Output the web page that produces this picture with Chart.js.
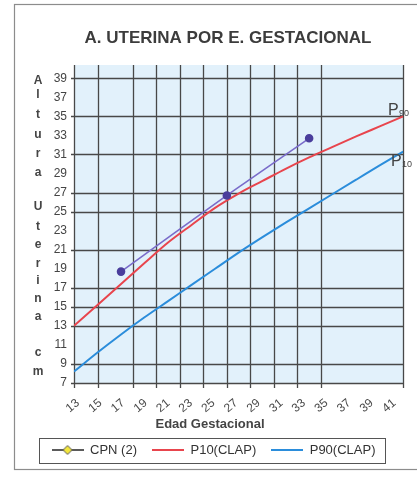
<!DOCTYPE html>
<html><head><meta charset="utf-8">
<script src="https://cdn.jsdelivr.net/npm/chart.js@4"></script>
<style>html,body{margin:0;padding:0;background:#fff;overflow:hidden}canvas{display:block}</style>
</head><body><canvas id="c" width="417" height="478"></canvas>
<script>
// ---- data ----
const chartTitle = 'A. UTERINA POR E. GESTACIONAL';
const xAxisTitle = 'Edad Gestacional';
const yAxisLetters = ['A','l','t','u','r','a','U','t','e','r','i','n','a','c','m'];
const xTickLabels = [13,15,17,19,21,23,25,27,29,31,33,35,37,39,41];
const yTickLabels = [7,9,11,13,15,17,19,21,23,25,27,29,31,33,35,37,39];
const weeks   = [13,15,17,19,21,23,25,27,29,31,33,35,37,39,41];
const p10Clap = [13.0,15.2,17.4,19.6,21.75,23.6,25.4,26.9,28.2,29.5,30.7,31.8,32.9,33.95,35.0];
const p90Clap = [8.2,10.2,12.1,13.9,15.6,17.3,19.0,20.7,22.3,23.85,25.35,26.85,28.35,29.85,31.3];
const cpnWeeks = [17,26,33];
const cpnHeights = [18.7,26.7,32.7];
const vGridWeeks = [13,15,18,20,22,24,26,28,30,32,34,41];
const hGridValues = [7,9,13,15,17,21,25,27,31,35,39];
const seriesNames = ['CPN (2)','P10(CLAP)','P90(CLAP)'];
const curveTags = ['90','10'];

const FONT = '"Liberation Sans", Arial, Helvetica, sans-serif';
Chart.defaults.font.family = FONT;

function legendIcon(kind){
  const c = document.createElement('canvas');
  c.width = 32; c.height = 12;
  const g = c.getContext('2d');
  g.lineWidth = kind === 'cpn' ? 1.6 : 2;
  g.strokeStyle = kind === 'cpn' ? '#333' : (kind === 'red' ? '#e8454d' : '#2b8ddb');
  g.beginPath(); g.moveTo(0,6); g.lineTo(32,6); g.stroke();
  if (kind === 'cpn'){
    g.beginPath(); g.moveTo(16,1.5); g.lineTo(20.5,6); g.lineTo(16,10.5); g.lineTo(11.5,6); g.closePath();
    g.fillStyle = '#f3e63c'; g.fill(); g.lineWidth = 1; g.strokeStyle = '#555'; g.stroke();
  }
  return c;
}
const icons = [legendIcon('cpn'), legendIcon('red'), legendIcon('blue')];

const decor = {
  id: 'decor',
  beforeDraw(chart){
    const {ctx, chartArea:a} = chart;
    ctx.save();
    ctx.fillStyle = '#fff'; ctx.fillRect(0,0,chart.width,chart.height);
    ctx.strokeStyle = '#8c8c8c'; ctx.lineWidth = 1.2;
    ctx.strokeRect(14.5,4.5,420,465);
    ctx.fillStyle = '#e2f1fb';
    ctx.fillRect(a.left, a.top, a.right-a.left, a.bottom-a.top);
    ctx.restore();
  },
  beforeDatasetsDraw(chart){
    const {ctx, chartArea:a, scales:{x,y}} = chart;
    ctx.save();
    ctx.strokeStyle = '#484848'; ctx.lineWidth = 1.3;
    ctx.beginPath();
    vGridWeeks.forEach(w => { const px = Math.round(x.getPixelForValue(w)) + 0.5; ctx.moveTo(px, a.top); ctx.lineTo(px, a.bottom + 5); });
    hGridValues.forEach(v => { const py = Math.round(y.getPixelForValue(v)) + 0.5; ctx.moveTo(a.left - 3, py); ctx.lineTo(a.right, py); });
    ctx.stroke();
    ctx.restore();
  },
  afterDraw(chart){
    const {ctx, scales:{x,y}} = chart;
    ctx.save();
    // title
    ctx.fillStyle = '#3c3c3c'; ctx.textAlign = 'center'; ctx.textBaseline = 'middle';
    ctx.font = 'bold 17px ' + FONT;
    ctx.fillText(chartTitle, 228, 38.5);
    // x title
    ctx.font = 'bold 13px ' + FONT; ctx.fillStyle = '#444';
    ctx.fillText(xAxisTitle, 210, 424);
    // y title letters
    const ly = [81,95,115,135,154,173,207,227,245,264,281,299,317,353,372];
    ctx.font = 'bold 12px ' + FONT;
    yAxisLetters.forEach((ch,i) => ctx.fillText(ch, 38, ly[i]));
    // curve tags
    ctx.textAlign = 'left'; ctx.textBaseline = 'alphabetic'; ctx.fillStyle = '#444';
    const ends = [[p10Clap, 388, -1], [p90Clap, 391, 14]];
    ends.forEach((e,i) => {
      const py = y.getPixelForValue(e[0][e[0].length-1]) + e[2];
      ctx.font = '16px ' + FONT; ctx.fillText('P', e[1], py);
      ctx.font = '9px ' + FONT; ctx.fillText(curveTags[i], e[1] + 11, py + 1);
    });
    // legend frame
    const hb = chart.legend.legendHitBoxes;
    if (hb && hb.length){
      const l = hb[0].left - 13, r = hb[hb.length-1].left + hb[hb.length-1].width + 9;
      const cy = hb[0].top + hb[0].height/2;
      ctx.strokeStyle = '#555'; ctx.lineWidth = 1;
      ctx.strokeRect(Math.round(l)+0.5, Math.round(cy-12.5)+0.5, Math.round(r-l), 25);
    }
    ctx.restore();
  }
};

new Chart(document.getElementById('c'), {
  type: 'line',
  data: {
    datasets: [
      { label: seriesNames[0], data: cpnWeeks.map((w,i)=>({x:w, y:cpnHeights[i]})),
        borderColor: '#7a6cca', borderWidth: 1.6, tension: 0.25,
        pointRadius: 3.5, pointBackgroundColor: '#4a3e9c', pointBorderColor: '#4a3e9c' },
      { label: seriesNames[1], data: weeks.map((w,i)=>({x:w, y:p10Clap[i]})),
        borderColor: '#e8454d', borderWidth: 2, pointRadius: 0, cubicInterpolationMode: 'monotone' },
      { label: seriesNames[2], data: weeks.map((w,i)=>({x:w, y:p90Clap[i]})),
        borderColor: '#2b8ddb', borderWidth: 2, pointRadius: 0, cubicInterpolationMode: 'monotone' }
    ]
  },
  options: {
    responsive: false, animation: false, devicePixelRatio: 1,
    layout: { padding: { top: 65, left: 18, right: 8, bottom: 11.5 } },
    plugins: {
      tooltip: { enabled: false },
      title: { display: false },
      legend: {
        position: 'bottom',
        labels: {
          usePointStyle: true, pointStyleWidth: 32, padding: 15,
          color: '#333', font: { size: 13 },
          generateLabels: (chart) => seriesNames.map((n,i) => ({
            text: n, pointStyle: icons[i], fillStyle: 'transparent', strokeStyle: 'transparent',
            lineWidth: 0, hidden: false, datasetIndex: i, fontColor: '#333'
          }))
        }
      }
    },
    scales: {
      x: { type: 'linear', display: false, min: 13, max: 41 },
      xl: { type: 'linear', position: 'bottom', min: 12.65, max: 41.78,
        afterBuildTicks: s => { s.ticks = xTickLabels.map(v => ({value: v})); },
        afterFit: s => { s.height = 45.5; },
        grid: { display: false, drawTicks: false }, border: { display: false },
        ticks: { autoSkip: false, minRotation: 40, maxRotation: 40, padding: 13, color: '#4a4a4a', font: { size: 12 } } },
      y: { type: 'linear', min: 7, max: 40.4,
        afterBuildTicks: s => { s.ticks = yTickLabels.map(v => ({value: v})); },
        afterFit: s => { s.width = 56; },
        grid: { display: false, drawTicks: false }, border: { display: false },
        ticks: { padding: 7, color: '#444', font: { size: 12 } } }
    }
  },
  plugins: [decor]
});
</script>
</body></html>
